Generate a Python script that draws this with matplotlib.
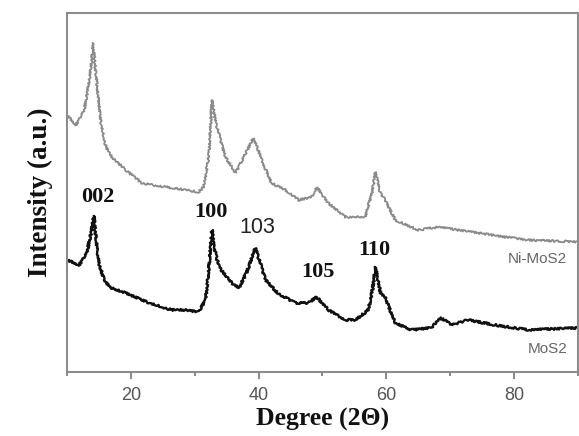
import matplotlib
matplotlib.use("Agg")
import matplotlib.pyplot as plt
from matplotlib.ticker import FixedLocator

# XRD patterns (2-theta in degrees, intensity in a.u.)
deg_mos2 = [10.0, 11.9, 13.1, 13.8, 14.2, 14.6, 15.0, 15.8, 16.6, 19.2, 22.8, 26.4,
            28.6, 30.6, 31.7, 32.3, 32.7, 33.2, 33.8, 35.8, 36.9, 38.1, 39.5, 41.1,
            43.1, 45.8, 47.8, 49.1, 50.9, 53.6, 55.2, 57.2, 57.9, 58.3, 58.8, 59.1,
            59.8, 61.4, 63.9, 67.0, 68.6, 70.2, 72.8, 77.0, 82.2, 90.0]
int_mos2 = [112, 107, 119, 140, 156, 130, 108, 93, 85, 79, 69, 62,
            62, 60, 72, 110, 142, 120, 105, 89, 84, 99, 124, 92,
            78, 69, 69, 75, 62, 52, 52, 62, 85, 105, 88, 79,
            75, 49, 42, 44, 54, 47, 52, 47, 42, 44]

deg_ni = [10.0, 11.4, 12.7, 13.6, 14.1, 14.5, 14.9, 15.3, 16.1, 17.0, 19.2, 21.7,
          25.5, 28.6, 30.6, 31.4, 32.2, 32.7, 33.3, 34.8, 36.4, 38.0, 39.2, 40.5,
          42.0, 44.2, 46.3, 48.3, 49.1, 50.9, 53.6, 56.7, 57.8, 58.3, 59.0, 59.8,
          61.4, 65.0, 68.1, 74.4, 78.6, 82.2, 90.0]
int_ni = [257, 247, 262, 295, 329, 300, 275, 249, 225, 215, 202, 189,
          185, 182, 180, 185, 215, 272, 249, 215, 199, 219, 234, 212,
          189, 182, 172, 175, 185, 169, 155, 155, 180, 200, 180, 172,
          152, 142, 145, 139, 135, 132, 130]

peak_labels = ["002", "100", "103", "105", "110"]
peak_pos = [14.8, 32.6, 39.8, 49.3, 58.2]
peak_y = [175, 160, 144, 100, 122]

fig = plt.figure(figsize=(5.79, 4.36), dpi=100)
ax = fig.add_axes([0.1157, 0.147, 0.8823, 0.823])

l1, = ax.plot(deg_ni, int_ni, color="#8a8a8a", lw=1.3)
l2, = ax.plot(deg_mos2, int_mos2, color="#111111", lw=1.7)
for ln in (l1, l2):
    ln.set_sketch_params(scale=1.0, length=1.2, randomness=3)

serif = ["Liberation Serif", "DejaVu Serif"]
for lab, x, y in zip(peak_labels, peak_pos, peak_y):
    if lab == "103":
        ax.text(x, y, lab, ha="center", va="center", fontsize=15.5,
                family="Liberation Sans", color="#222222")
    else:
        ax.text(x, y, lab, ha="center", va="center", fontsize=16,
                family=serif, fontweight="bold", color="#111111")

ax.text(83.6, 113, "Ni-MoS2", ha="center", va="center", fontsize=11,
        family="Liberation Sans", color="#666666")
ax.text(85.2, 23, "MoS2", ha="center", va="center", fontsize=11,
        family="Liberation Sans", color="#666666")

ax.set_xlim(10, 90)
ax.set_ylim(0, 359)
ax.xaxis.set_major_locator(FixedLocator([20, 40, 60, 80]))
ax.xaxis.set_minor_locator(FixedLocator([10, 30, 50, 70, 90]))
ax.set_yticks([])
ax.tick_params(axis="x", which="major", length=5, width=1.4, color="#888888",
               labelsize=13, labelcolor="#555555", pad=6)
ax.tick_params(axis="x", which="minor", length=3, width=1.4, color="#888888")
for lab in ax.get_xticklabels():
    lab.set_family("Liberation Sans")

for s in ax.spines.values():
    s.set_color("#8c8c8c")
    s.set_linewidth(1.5)

ax.set_xlabel("Degree (2\u0398)", fontsize=18.5, fontweight="bold", family=serif,
              color="#111111", labelpad=3)
ax.set_ylabel("Intensity (a.u.)", fontsize=19.5, fontweight="bold", family=serif,
              color="#111111", labelpad=10)

fig.savefig("out.png", dpi=100)
